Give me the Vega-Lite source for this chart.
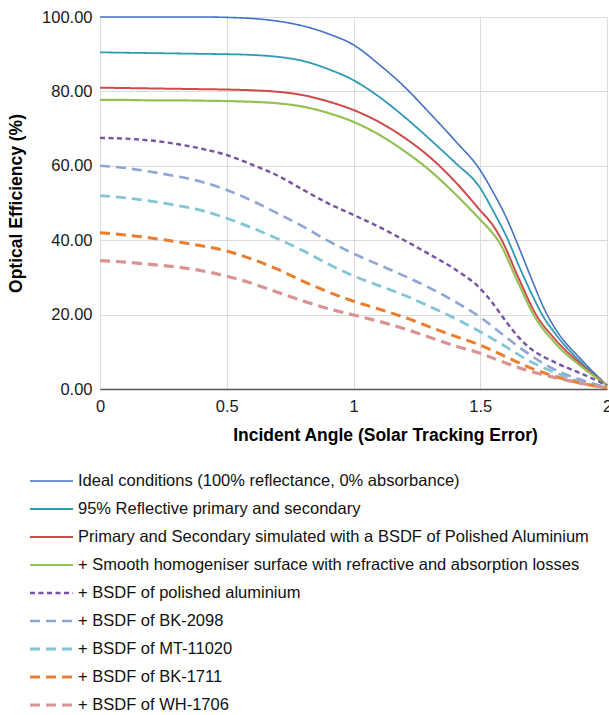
{
  "$schema": "https://vega.github.io/schema/vega-lite/v6.json",
  "width": 507,
  "height": 372,
  "autosize": {"type": "none"},
  "padding": {"left": 100, "top": 17, "right": 2, "bottom": 326},
  "config": {
    "view": {"stroke": null},
    "font": "Liberation Sans",
    "axis": {"labelFont": "Liberation Sans", "titleFont": "Liberation Sans", "labelColor": "#1a1a1a", "titleColor": "#000000", "gridColor": "#dcdcdc", "gridWidth": 1}
  },
  "datasets": {
    "names": [
      {"s": "A", "name": "Ideal conditions (100% reflectance, 0% absorbance)"},
      {"s": "B", "name": "95% Reflective primary and secondary"},
      {"s": "C", "name": "Primary and Secondary simulated with a BSDF of Polished Aluminium"},
      {"s": "D", "name": "+ Smooth homogeniser surface with refractive and absorption losses"},
      {"s": "E", "name": "+ BSDF of polished aluminium"},
      {"s": "F", "name": "+ BSDF of BK-2098"},
      {"s": "G", "name": "+ BSDF of MT-11020"},
      {"s": "H", "name": "+ BSDF of BK-1711"},
      {"s": "I", "name": "+ BSDF of WH-1706"}
    ]
  },
  "data": {"values": [
    {"s":"A","x":0,"y":100},{"s":"A","x":0.1,"y":100},{"s":"A","x":0.2,"y":100},{"s":"A","x":0.3,"y":100},{"s":"A","x":0.4,"y":100},{"s":"A","x":0.5,"y":99.9},{"s":"A","x":0.6,"y":99.6},{"s":"A","x":0.7,"y":98.9},{"s":"A","x":0.8,"y":97.6},{"s":"A","x":0.9,"y":95.5},{"s":"A","x":1.0,"y":92.5},{"s":"A","x":1.1,"y":87.3},{"s":"A","x":1.2,"y":81.3},{"s":"A","x":1.3,"y":74.2},{"s":"A","x":1.4,"y":66.8},{"s":"A","x":1.5,"y":58.8},{"s":"A","x":1.55,"y":53},{"s":"A","x":1.6,"y":46.5},{"s":"A","x":1.65,"y":38.5},{"s":"A","x":1.7,"y":30},{"s":"A","x":1.76,"y":20.5},{"s":"A","x":1.8,"y":15.8},{"s":"A","x":1.9,"y":7.8},{"s":"A","x":2.0,"y":1},
    {"s":"B","x":0,"y":90.5},{"s":"B","x":0.1,"y":90.4},{"s":"B","x":0.2,"y":90.3},{"s":"B","x":0.3,"y":90.2},{"s":"B","x":0.4,"y":90.1},{"s":"B","x":0.5,"y":90.0},{"s":"B","x":0.6,"y":89.8},{"s":"B","x":0.7,"y":89.3},{"s":"B","x":0.8,"y":88.2},{"s":"B","x":0.9,"y":86.0},{"s":"B","x":1.0,"y":83},{"s":"B","x":1.1,"y":78.6},{"s":"B","x":1.2,"y":73.2},{"s":"B","x":1.3,"y":67.2},{"s":"B","x":1.4,"y":60.9},{"s":"B","x":1.5,"y":54},{"s":"B","x":1.55,"y":48},{"s":"B","x":1.61,"y":40},{"s":"B","x":1.65,"y":33.5},{"s":"B","x":1.7,"y":26},{"s":"B","x":1.74,"y":20.5},{"s":"B","x":1.8,"y":14.5},{"s":"B","x":1.9,"y":7},{"s":"B","x":2.0,"y":1},
    {"s":"C","x":0,"y":81},{"s":"C","x":0.1,"y":80.9},{"s":"C","x":0.2,"y":80.8},{"s":"C","x":0.3,"y":80.7},{"s":"C","x":0.4,"y":80.6},{"s":"C","x":0.5,"y":80.5},{"s":"C","x":0.6,"y":80.3},{"s":"C","x":0.7,"y":79.9},{"s":"C","x":0.8,"y":79.0},{"s":"C","x":0.9,"y":77.3},{"s":"C","x":1.0,"y":75},{"s":"C","x":1.1,"y":71.8},{"s":"C","x":1.2,"y":67.6},{"s":"C","x":1.3,"y":62.4},{"s":"C","x":1.4,"y":55.8},{"s":"C","x":1.5,"y":48},{"s":"C","x":1.55,"y":44},{"s":"C","x":1.585,"y":40},{"s":"C","x":1.65,"y":30},{"s":"C","x":1.72,"y":20},{"s":"C","x":1.8,"y":13},{"s":"C","x":1.9,"y":6.5},{"s":"C","x":2.0,"y":1},
    {"s":"D","x":0,"y":77.7},{"s":"D","x":0.1,"y":77.7},{"s":"D","x":0.2,"y":77.6},{"s":"D","x":0.3,"y":77.6},{"s":"D","x":0.4,"y":77.5},{"s":"D","x":0.5,"y":77.4},{"s":"D","x":0.6,"y":77.2},{"s":"D","x":0.7,"y":76.8},{"s":"D","x":0.8,"y":75.9},{"s":"D","x":0.9,"y":74.2},{"s":"D","x":1.0,"y":71.8},{"s":"D","x":1.1,"y":68.4},{"s":"D","x":1.2,"y":64},{"s":"D","x":1.3,"y":58.8},{"s":"D","x":1.4,"y":52.5},{"s":"D","x":1.5,"y":45.5},{"s":"D","x":1.55,"y":41.8},{"s":"D","x":1.57,"y":40},{"s":"D","x":1.65,"y":28.5},{"s":"D","x":1.71,"y":20},{"s":"D","x":1.8,"y":12},{"s":"D","x":1.9,"y":6},{"s":"D","x":2.0,"y":1},
    {"s":"E","x":0,"y":67.5},{"s":"E","x":0.1,"y":67.3},{"s":"E","x":0.2,"y":66.8},{"s":"E","x":0.3,"y":65.9},{"s":"E","x":0.4,"y":64.6},{"s":"E","x":0.5,"y":62.9},{"s":"E","x":0.6,"y":60.3},{"s":"E","x":0.7,"y":57.4},{"s":"E","x":0.8,"y":53.6},{"s":"E","x":0.9,"y":49.9},{"s":"E","x":1.0,"y":46.8},{"s":"E","x":1.1,"y":43.6},{"s":"E","x":1.2,"y":40},{"s":"E","x":1.3,"y":36.2},{"s":"E","x":1.4,"y":32.2},{"s":"E","x":1.5,"y":27},{"s":"E","x":1.55,"y":23},{"s":"E","x":1.6,"y":18.3},{"s":"E","x":1.65,"y":14},{"s":"E","x":1.7,"y":10.8},{"s":"E","x":1.8,"y":7},{"s":"E","x":1.9,"y":4.1},{"s":"E","x":2.0,"y":1},
    {"s":"F","x":0,"y":60},{"s":"F","x":0.1,"y":59.4},{"s":"F","x":0.2,"y":58.4},{"s":"F","x":0.3,"y":57.2},{"s":"F","x":0.4,"y":55.7},{"s":"F","x":0.5,"y":53.5},{"s":"F","x":0.6,"y":50.6},{"s":"F","x":0.7,"y":47.2},{"s":"F","x":0.8,"y":43.7},{"s":"F","x":0.9,"y":39.8},{"s":"F","x":1.0,"y":36.4},{"s":"F","x":1.1,"y":33.4},{"s":"F","x":1.2,"y":30.4},{"s":"F","x":1.3,"y":27.2},{"s":"F","x":1.4,"y":23.5},{"s":"F","x":1.5,"y":19.3},{"s":"F","x":1.6,"y":14},{"s":"F","x":1.7,"y":9},{"s":"F","x":1.8,"y":5},{"s":"F","x":1.9,"y":2.4},{"s":"F","x":2.0,"y":0.5},
    {"s":"G","x":0,"y":52},{"s":"G","x":0.1,"y":51.4},{"s":"G","x":0.2,"y":50.5},{"s":"G","x":0.3,"y":49.4},{"s":"G","x":0.4,"y":48},{"s":"G","x":0.5,"y":45.9},{"s":"G","x":0.6,"y":43.3},{"s":"G","x":0.7,"y":40.4},{"s":"G","x":0.8,"y":37.2},{"s":"G","x":0.9,"y":33.6},{"s":"G","x":1.0,"y":30.4},{"s":"G","x":1.1,"y":27.8},{"s":"G","x":1.2,"y":25.2},{"s":"G","x":1.3,"y":22.2},{"s":"G","x":1.4,"y":19},{"s":"G","x":1.5,"y":15.4},{"s":"G","x":1.6,"y":11.4},{"s":"G","x":1.7,"y":7.3},{"s":"G","x":1.8,"y":4.3},{"s":"G","x":1.9,"y":1.8},{"s":"G","x":2.0,"y":0.3},
    {"s":"H","x":0,"y":42},{"s":"H","x":0.1,"y":41.4},{"s":"H","x":0.2,"y":40.6},{"s":"H","x":0.3,"y":39.6},{"s":"H","x":0.4,"y":38.5},{"s":"H","x":0.5,"y":37.1},{"s":"H","x":0.6,"y":34.9},{"s":"H","x":0.7,"y":32.2},{"s":"H","x":0.8,"y":29},{"s":"H","x":0.9,"y":26.1},{"s":"H","x":1.0,"y":23.6},{"s":"H","x":1.1,"y":21.5},{"s":"H","x":1.2,"y":19.3},{"s":"H","x":1.3,"y":16.7},{"s":"H","x":1.4,"y":14.2},{"s":"H","x":1.5,"y":11.8},{"s":"H","x":1.6,"y":8.7},{"s":"H","x":1.7,"y":5.6},{"s":"H","x":1.8,"y":3.3},{"s":"H","x":1.9,"y":1.5},{"s":"H","x":2.0,"y":0.3},
    {"s":"I","x":0,"y":34.5},{"s":"I","x":0.1,"y":34.1},{"s":"I","x":0.2,"y":33.5},{"s":"I","x":0.3,"y":32.8},{"s":"I","x":0.4,"y":31.8},{"s":"I","x":0.5,"y":30.3},{"s":"I","x":0.6,"y":28.4},{"s":"I","x":0.7,"y":26},{"s":"I","x":0.8,"y":23.7},{"s":"I","x":0.9,"y":21.6},{"s":"I","x":1.0,"y":19.9},{"s":"I","x":1.1,"y":18.2},{"s":"I","x":1.2,"y":16.2},{"s":"I","x":1.3,"y":13.9},{"s":"I","x":1.4,"y":11.6},{"s":"I","x":1.5,"y":9.6},{"s":"I","x":1.6,"y":7},{"s":"I","x":1.7,"y":4.7},{"s":"I","x":1.8,"y":3},{"s":"I","x":1.9,"y":1.5},{"s":"I","x":2.0,"y":0.3}
  ]},
  "transform": [
    {"lookup": "s", "from": {"data": {"name": "names"}, "key": "s", "fields": ["name"]}}
  ],
  "mark": {"type": "line", "interpolate": "monotone"},
  "encoding": {
    "x": {"field": "x", "type": "quantitative",
      "scale": {"domain": [0, 2], "nice": false},
      "axis": {"values": [0, 0.5, 1, 1.5, 2], "format": "~g", "title": "Incident Angle (Solar Tracking Error)", "titleFontSize": 17.5, "titleFontWeight": "bold", "titleX": 285, "titlePadding": 12, "labelFontSize": 16.5, "labelPadding": 9, "ticks": false, "domainColor": "#555555", "domainWidth": 1.5, "labelFlush": false, "labelOverlap": false}},
    "y": {"field": "y", "type": "quantitative",
      "scale": {"domain": [0, 100], "nice": false},
      "axis": {"values": [0, 20, 40, 60, 80, 100], "format": ".2f", "title": "Optical Efficiency (%)", "titleFontSize": 17.5, "titleFontWeight": "bold", "titlePadding": 16, "labelFontSize": 16.5, "labelPadding": 8, "ticks": false, "domain": false}},
    "color": {"field": "name", "type": "nominal",
      "scale": {
        "domain": ["Ideal conditions (100% reflectance, 0% absorbance)", "95% Reflective primary and secondary", "Primary and Secondary simulated with a BSDF of Polished Aluminium", "+ Smooth homogeniser surface with refractive and absorption losses", "+ BSDF of polished aluminium", "+ BSDF of BK-2098", "+ BSDF of MT-11020", "+ BSDF of BK-1711", "+ BSDF of WH-1706"],
        "range": ["#4472c4", "#2e9ab4", "#cf4b49", "#95c053", "#7753a4", "#8ea6d6", "#82c4d8", "#ea7d2e", "#d99392"]},
      "legend": {"title": null, "orient": "none", "legendX": -72, "legendY": 450, "symbolType": "stroke", "symbolSize": 1849, "labelFontSize": 16.5, "labelFont": "Liberation Sans", "labelColor": "#111111", "labelLimit": 600, "labelOffset": 3, "rowPadding": 0, "clipHeight": 28}},
    "strokeDash": {"field": "name", "type": "nominal",
      "scale": {
        "domain": ["Ideal conditions (100% reflectance, 0% absorbance)", "95% Reflective primary and secondary", "Primary and Secondary simulated with a BSDF of Polished Aluminium", "+ Smooth homogeniser surface with refractive and absorption losses", "+ BSDF of polished aluminium", "+ BSDF of BK-2098", "+ BSDF of MT-11020", "+ BSDF of BK-1711", "+ BSDF of WH-1706"],
        "range": [[1, 0], [1, 0], [1, 0], [1, 0], [5, 3.5], [10, 6], [10, 6], [10, 6], [10, 6]]},
      "legend": {"title": null}},
    "strokeWidth": {"field": "name", "type": "nominal",
      "scale": {
        "domain": ["Ideal conditions (100% reflectance, 0% absorbance)", "95% Reflective primary and secondary", "Primary and Secondary simulated with a BSDF of Polished Aluminium", "+ Smooth homogeniser surface with refractive and absorption losses", "+ BSDF of polished aluminium", "+ BSDF of BK-2098", "+ BSDF of MT-11020", "+ BSDF of BK-1711", "+ BSDF of WH-1706"],
        "range": [1.6, 3.2, 2, 2, 2, 4, 4, 4, 4]},
      "legend": {"title": null}}
  }
}
